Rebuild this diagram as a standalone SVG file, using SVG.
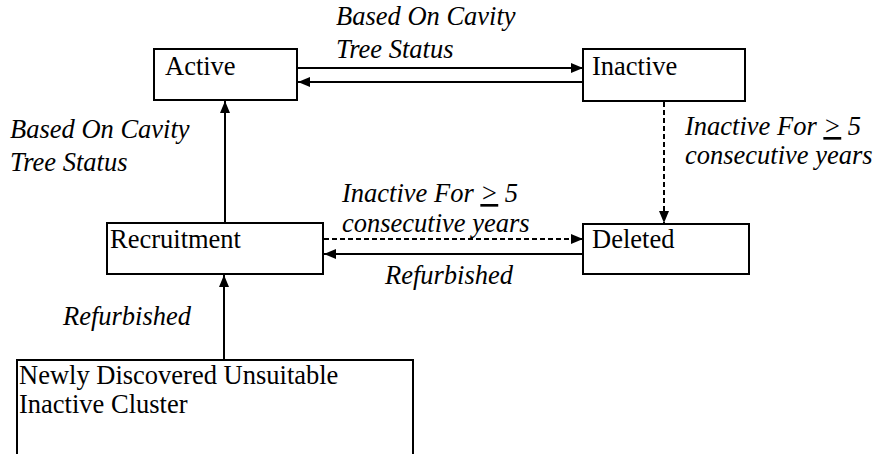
<svg xmlns="http://www.w3.org/2000/svg" width="877" height="454" viewBox="0 0 877 454">
<style>
.box{fill:#fff;stroke:#000;stroke-width:2}
.t{font-family:"Liberation Serif","Times New Roman",serif;font-size:26.5px;fill:#000}
.l{font-family:"Liberation Serif","Times New Roman",serif;font-size:26.5px;font-style:italic;fill:#000}
.c{stroke:#000;stroke-width:2;fill:none}
.d{stroke-dasharray:5 3}
</style>
<defs>
<marker id="ah" viewBox="0 0 12 10" refX="12" refY="5" markerWidth="12" markerHeight="10" markerUnits="userSpaceOnUse" orient="auto">
<path d="M0,0 L12,5 L0,10 Z" fill="#000"/>
</marker>
</defs>
<g id="connectors">
<line class="c" x1="298" y1="68" x2="583" y2="68" marker-end="url(#ah)"/>
<line class="c" x1="583" y1="82" x2="298" y2="82" marker-end="url(#ah)"/>
<line class="c" x1="225" y1="223" x2="225" y2="101" marker-end="url(#ah)"/>
<line class="c d" x1="664" y1="102" x2="664" y2="223" marker-end="url(#ah)"/>
<line class="c d" x1="324" y1="239" x2="583" y2="239" marker-end="url(#ah)"/>
<line class="c" x1="583" y1="254" x2="324" y2="254" marker-end="url(#ah)"/>
<line class="c" x1="224" y1="360" x2="224" y2="275" marker-end="url(#ah)"/>
</g>
<g id="labels">
<text class="l" x="336" y="25">Based On Cavity</text>
<text class="l" x="336" y="58">Tree Status</text>
<text class="l" x="10" y="138">Based On Cavity</text>
<text class="l" x="10" y="171">Tree Status</text>
<text class="l" x="685" y="135">Inactive For <tspan text-decoration="underline">&gt;</tspan> 5</text>
<text class="l" x="685" y="164">consecutive years</text>
<text class="l" x="342" y="202">Inactive For <tspan text-decoration="underline">&gt;</tspan> 5</text>
<text class="l" x="342" y="232">consecutive years</text>
<text class="l" x="385" y="284">Refurbished</text>
<text class="l" x="63" y="325">Refurbished</text>
</g>
<g id="active"><rect class="box" x="154" y="49" width="143" height="51"/><text class="t" x="165" y="75">Active</text></g>
<g id="inactive"><rect class="box" x="583" y="49" width="162" height="52"/><text class="t" x="592" y="75">Inactive</text></g>
<g id="deleted"><rect class="box" x="583" y="224" width="166" height="50"/><text class="t" x="592" y="248">Deleted</text></g>
<g id="recruitment"><rect class="box" x="107" y="223" width="216" height="51"/><text class="t" x="110" y="248">Recruitment</text></g>
<g id="newly"><rect class="box" x="17" y="360" width="396" height="110"/><text class="t" x="19" y="384">Newly Discovered Unsuitable</text><text class="t" x="19" y="413">Inactive Cluster</text></g>
</svg>
